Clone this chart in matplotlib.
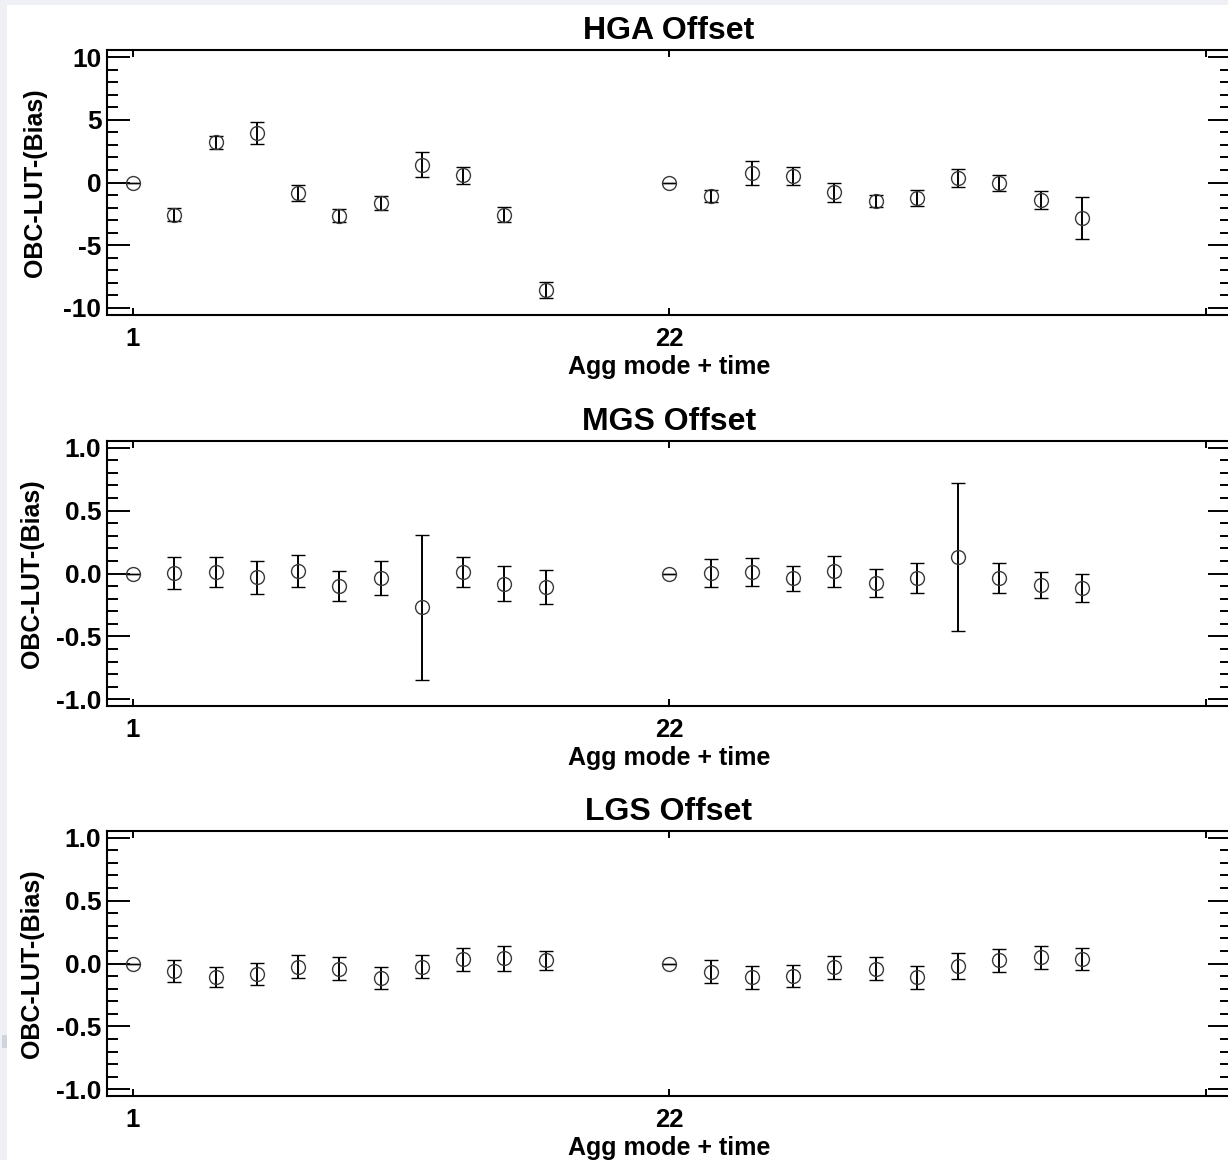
import numpy as np
import matplotlib.pyplot as plt
from matplotlib.ticker import MultipleLocator, FixedLocator
from matplotlib.patches import Rectangle

plt.rcParams['font.family'] = ['Liberation Sans', 'DejaVu Sans']
plt.rcParams['font.weight'] = 'bold'

# positions of the points (two groups of 11, gap between them)
x_pos = [1, 2, 3, 4, 5, 6, 7, 8, 9, 10, 11,
         14, 15, 16, 17, 18, 19, 20, 21, 22, 23, 24]
tick_pos = [1, 14, 27]
tick_labels = ['1', '22', '']

# HGA offset
hga_y = [0.0, -2.57, 3.19, 3.94, -0.85, -2.65, -1.64, 1.41, 0.56, -2.57, -8.55,
         0.0, -1.10, 0.75, 0.53, -0.77, -1.46, -1.25, 0.35, -0.05, -1.38, -2.84]
hga_err = [0.0, 0.50, 0.55, 0.85, 0.65, 0.50, 0.55, 1.00, 0.67, 0.60, 0.62,
           0.0, 0.48, 0.95, 0.73, 0.76, 0.50, 0.66, 0.73, 0.64, 0.70, 1.66]

# MGS offset
mgs_y = [0.0, 0.005, 0.01, -0.03, 0.02, -0.10, -0.035, -0.27, 0.01, -0.08, -0.11,
         0.0, 0.005, 0.01, -0.037, 0.016, -0.075, -0.035, 0.13, -0.035, -0.09, -0.115]
mgs_err = [0.0, 0.13, 0.12, 0.13, 0.13, 0.12, 0.135, 0.575, 0.12, 0.137, 0.135,
           0.0, 0.113, 0.113, 0.10, 0.12, 0.11, 0.117, 0.59, 0.12, 0.105, 0.113]

# LGS offset
lgs_y = [0.0, -0.06, -0.106, -0.082, -0.026, -0.042, -0.114, -0.026, 0.032, 0.04, 0.026,
         0.0, -0.065, -0.11, -0.10, -0.03, -0.04, -0.11, -0.02, 0.025, 0.05, 0.035]
lgs_err = [0.0, 0.086, 0.082, 0.089, 0.09, 0.09, 0.09, 0.09, 0.094, 0.097, 0.075,
           0.0, 0.09, 0.09, 0.09, 0.09, 0.09, 0.09, 0.10, 0.09, 0.09, 0.09]

panels = [
    ('HGA Offset', hga_y, hga_err, 10.56, 5, 1, '%d', 12),
    ('MGS Offset', mgs_y, mgs_err, 1.053, 0.5, 0.1, '%.1f', 9),
    ('LGS Offset', lgs_y, lgs_err, 1.052, 0.5, 0.1, '%.1f', 9),
]

W, H = 1228, 1160
fig = plt.figure(figsize=(W / 100, H / 100), dpi=100)
fig.patch.set_facecolor('white')

# light grey frame of the screenshot
grey = '#eef0f5'
fig.patches.append(Rectangle((0, 1 - 5 / H), 1, 5 / H, transform=fig.transFigure,
                             facecolor=grey, edgecolor='none', zorder=0))
fig.patches.append(Rectangle((0, 0), 7 / W, 1, transform=fig.transFigure,
                             facecolor=grey, edgecolor='none', zorder=0))
fig.patches.append(Rectangle((2 / W, 1 - 1048 / H), 5 / W, 13 / H, transform=fig.transFigure,
                             facecolor='#cfd3db', edgecolor='none', zorder=1))

tops = [50, 441, 831]
ax_h = 265
left = 107
right = 1230.5

for (title, yv, ye, ylim, major, minor, fmt, ylpad), top in zip(panels, tops):
    ax = fig.add_axes([left / W, 1 - (top + ax_h) / H, (right - left) / W, ax_h / H])
    ax.errorbar(x_pos, yv, yerr=ye, fmt='o', ms=10, mfc='none', mec='#3a3a3a', mew=1.0,
                ecolor='black', elinewidth=1.4, capsize=4.7, capthick=1.4)
    ax.set_xlim(0.37, 27.6)
    ax.set_ylim(-ylim, ylim)

    ax.xaxis.set_major_locator(FixedLocator(tick_pos))
    ax.set_xticklabels(tick_labels)
    ax.yaxis.set_major_locator(MultipleLocator(major))
    ax.yaxis.set_minor_locator(MultipleLocator(minor))
    ax.yaxis.set_major_formatter(plt.FormatStrFormatter(fmt))

    ax.tick_params(axis='x', which='major', direction='in', top=True, bottom=True,
                   length=5, width=1.4, labelsize=18.5, pad=8.5)
    ax.tick_params(axis='x', which='minor', bottom=False, top=False)
    ax.tick_params(axis='y', which='major', direction='in', left=True, right=True,
                   length=16.5, width=1.4, labelsize=19, pad=4)
    ax.tick_params(axis='y', which='minor', direction='in', left=True, right=True,
                   length=8, width=1.4)
    for lab in ax.get_xticklabels() + ax.get_yticklabels():
        lab.set_fontweight('bold')
    for sp in ax.spines.values():
        sp.set_linewidth(1.5)

    ax.set_title(title, fontsize=23, fontweight='bold', pad=8)
    ax.set_xlabel('Agg mode + time', fontsize=18, fontweight='bold', labelpad=3)
    ax.set_ylabel('OBC-LUT-(Bias)', fontsize=18, fontweight='bold', labelpad=ylpad)

fig.savefig('out.png', dpi=100)
